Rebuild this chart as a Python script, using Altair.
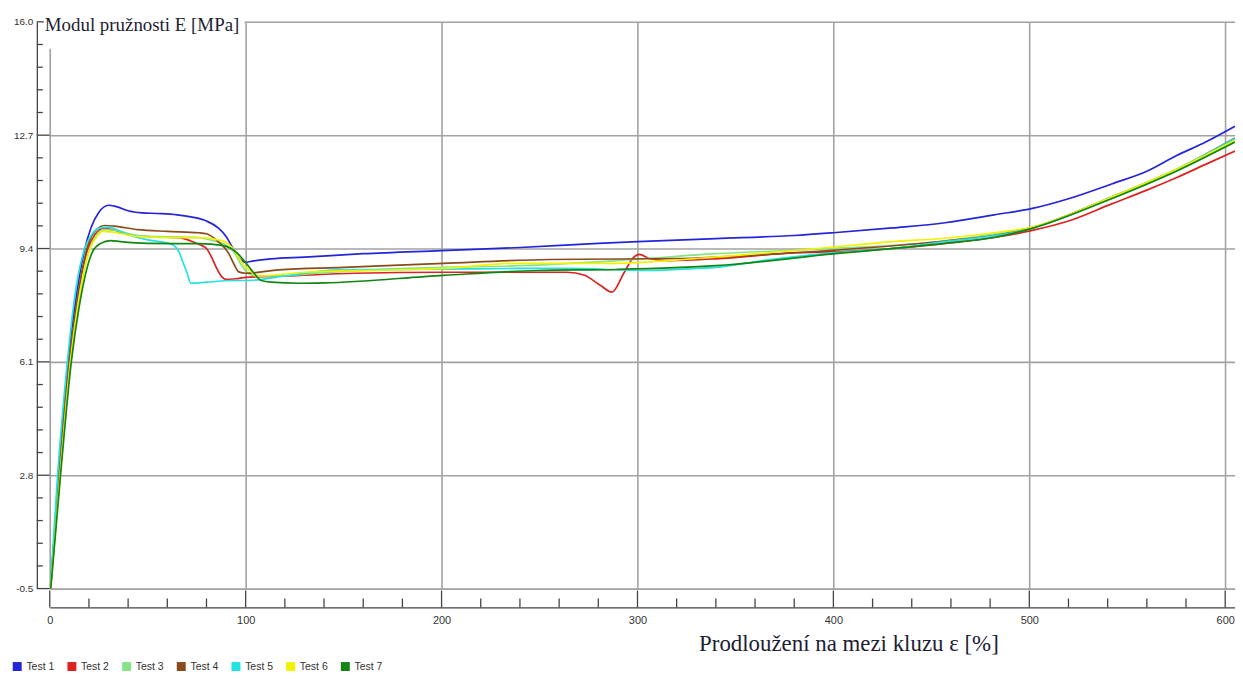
import altair as alt
import pandas as pd

# ---------------- data ----------------
series_names = ["Test 1", "Test 2", "Test 3", "Test 4", "Test 5", "Test 6", "Test 7"]
series_colors = ["#2424d8", "#dd2222", "#86e486", "#8b4a1c", "#22e2e2", "#f2f200", "#128612"]

x_test1 = [0.5, 4.5, 9.5, 13.5, 17.5, 21.0, 25, 30, 34, 40, 47, 55, 65, 72, 80, 86, 90, 94, 97, 100,
           104, 113, 130, 160, 200, 240, 280, 300, 340, 380, 400, 430, 457, 482, 501, 520, 542, 560, 575, 590, 605]
y_test1 = [-0.4, 2.8, 6.2, 8.0, 9.3, 10.0, 10.45, 10.66, 10.62, 10.5, 10.44, 10.42, 10.38, 10.32, 10.2, 10.0,
           9.75, 9.35, 9.1, 9.0, 9.04, 9.1, 9.15, 9.25, 9.34, 9.43, 9.55, 9.6, 9.69, 9.78, 9.86, 10.0, 10.15,
           10.38, 10.56, 10.85, 11.28, 11.65, 12.1, 12.5, 12.96]

x_test2 = [0.5, 4.8, 10, 14, 19, 23, 27, 32, 40, 50, 60, 66, 72, 77, 80, 83, 85, 87.5, 90, 95, 100, 120,
           156, 200, 240, 264, 273, 281, 287, 293, 298, 301, 306, 315, 340, 381, 401, 430, 457, 482, 501,
           520, 542, 560, 575, 590, 605]
y_test2 = [-0.4, 2.8, 6.1, 7.8, 9.3, 9.8, 9.98, 9.95, 9.8, 9.75, 9.73, 9.72, 9.62, 9.5, 9.4, 9.1, 8.85,
           8.6, 8.5, 8.52, 8.56, 8.6, 8.68, 8.71, 8.71, 8.71, 8.62, 8.33, 8.13, 8.68, 9.14, 9.23, 9.11, 9.05,
           9.1, 9.28, 9.31, 9.4, 9.55, 9.72, 9.92, 10.2, 10.7, 11.1, 11.46, 11.85, 12.24]

x_test3 = [0.5, 5, 10.3, 14.3, 19.8, 24, 28, 33, 45, 60, 76, 85, 90, 94, 97, 100, 104, 115, 140, 200,
           240, 290, 340, 400, 457, 482, 501, 542, 575, 605]
y_test3 = [-0.4, 2.8, 6.1, 7.8, 9.3, 9.8, 9.95, 9.93, 9.78, 9.74, 9.72, 9.6, 9.5, 9.3, 9.0, 8.75, 8.62,
           8.6, 8.7, 8.85, 8.9, 9.05, 9.25, 9.4, 9.62, 9.82, 10.0, 10.88, 11.66, 12.55]

x_test4 = [0.5, 4.8, 10, 14, 19, 23, 28, 33, 45, 60, 76, 80, 86, 91.4, 94, 96.5, 100, 117, 150, 201,
           255, 323, 340, 400, 457, 482, 501, 542, 575, 605]
y_test4 = [-0.4, 2.8, 6.1, 7.9, 9.4, 9.9, 10.07, 10.05, 9.95, 9.9, 9.86, 9.83, 9.6, 9.25, 8.95, 8.72,
           8.68, 8.78, 8.85, 8.97, 9.08, 9.11, 9.15, 9.35, 9.62, 9.78, 10.0, 10.9, 11.7, 12.62]

x_test5 = [0.5, 4, 9, 12.5, 17.8, 22, 25.5, 30, 40, 50, 59, 63, 66, 68, 70, 72, 80, 93, 101, 120, 147,
           201, 240, 264, 306, 330, 340, 364, 401, 430, 457, 482, 501, 542, 575, 605]
y_test5 = [-0.3, 2.8, 6.1, 7.9, 9.4, 9.85, 10.0, 10.02, 9.8, 9.65, 9.57, 9.5, 9.3, 9.0, 8.7, 8.39, 8.42,
           8.47, 8.47, 8.6, 8.78, 8.8, 8.82, 8.82, 8.76, 8.82, 8.85, 9.05, 9.28, 9.4, 9.6, 9.77, 9.98, 10.9,
           11.7, 12.6]

x_test6 = [0.5, 5.2, 10.5, 14.5, 20.3, 24, 27, 32, 45, 60, 76, 88, 93, 96.4, 100, 103, 105, 130, 201,
           239, 289, 330, 397, 430, 457, 482, 501, 542, 575, 605]
y_test6 = [-0.5, 2.8, 6.1, 7.8, 9.35, 9.75, 9.9, 9.88, 9.75, 9.72, 9.72, 9.63, 9.43, 9.14, 8.85, 8.72,
           8.6, 8.71, 8.82, 8.97, 8.97, 9.11, 9.43, 9.6, 9.7, 9.86, 10.02, 10.9, 11.7, 12.55]

x_test7 = [0.5, 5.5, 11, 15, 21.8, 26, 31, 36, 50, 76, 88, 96, 100, 104, 108, 113, 127, 140, 201, 249,
           289, 340, 401, 457, 482, 501, 542, 575, 605]
y_test7 = [-0.5, 2.8, 6.1, 7.7, 9.3, 9.55, 9.63, 9.6, 9.55, 9.54, 9.49, 9.25, 8.99, 8.7, 8.47, 8.42,
           8.39, 8.4, 8.62, 8.76, 8.79, 8.9, 9.25, 9.55, 9.72, 9.98, 10.85, 11.65, 12.5]

x_major_ticks = [0, 100, 200, 300, 400, 500, 600]
x_minor_ticks = [20, 40, 60, 80, 120, 140, 160, 180, 220, 240, 260, 280, 320, 340, 360, 380,
                 420, 440, 460, 480, 520, 540, 560, 580]
y_major_ticks = [-0.5, 2.8, 6.1, 9.4, 12.7, 16.0]
y_minor_ticks = [0.16, 0.82, 1.48, 2.14, 3.46, 4.12, 4.78, 5.44, 6.76, 7.42, 8.08, 8.74,
                 10.06, 10.72, 11.38, 12.04, 13.36, 14.02, 14.68, 15.34]

y_title = "Modul pružnosti E [MPa]"
x_title = "Prodloužení na mezi kluzu ε [%]"

# ---------------- table ----------------
rows = []
all_x = [x_test1, x_test2, x_test3, x_test4, x_test5, x_test6, x_test7]
all_y = [y_test1, y_test2, y_test3, y_test4, y_test5, y_test6, y_test7]
for name, xs, ys in zip(series_names, all_x, all_y):
    for i, (xv, yv) in enumerate(zip(xs, ys)):
        rows.append({"test": name, "x": xv, "y": yv, "i": i})
df = pd.DataFrame(rows)

xscale = alt.Scale(domain=[0, 605], nice=False, zero=False)
yscale = alt.Scale(domain=[-0.5, 16.0], nice=False, zero=False)

LABEL_FONT = "Liberation Sans"
TITLE_FONT = "Liberation Serif"
GRID = "#a2a2a2"
AXC = "#444444"

x_axis = alt.Axis(
    values=x_major_ticks, format="d", grid=True, gridColor=GRID, gridWidth=1.6,
    ticks=False, domain=True, domainColor=AXC, domainWidth=1.3, offset=19,
    labelPadding=7, labelFont=LABEL_FONT, labelFontSize=11, labelColor="#333333",
    labelFlush=False, labelOverlap=False, title=None)
y_axis = alt.Axis(
    values=y_major_ticks, grid=True, gridColor=GRID, gridWidth=1.6,
    ticks=False, domain=True, domainColor=AXC, domainWidth=1.3, offset=13,
    labelPadding=4, labelFont=LABEL_FONT, labelFontSize=10, labelColor="#333333",
    labelFlush=False, labelOverlap=False, title=None,
    labelExpr="datum.value < 0 ? '-' + format(abs(datum.value), '.1f') : format(datum.value, '.1f')")

lines = alt.Chart(df).mark_line(strokeWidth=1.7, interpolate="monotone").encode(
    x=alt.X("x:Q", scale=xscale, axis=x_axis),
    y=alt.Y("y:Q", scale=yscale, axis=y_axis),
    color=alt.Color("test:N", scale=alt.Scale(domain=series_names, range=series_colors),
                    legend=alt.Legend(orient="none", legendX=-38, legendY=643, direction="horizontal",
                                      title=None, symbolType="square", symbolSize=9,
                                      symbolStrokeWidth=6, labelFont=LABEL_FONT, labelFontSize=10.5,
                                      labelColor="#333333", labelOffset=4, columnPadding=3,
                                      padding=0)),
    order=alt.Order("i:Q"),
)

xmaj = alt.Chart(pd.DataFrame({"x": x_major_ticks})).mark_rule(color=AXC, strokeWidth=1.3).encode(
    x=alt.X("x:Q", scale=xscale, axis=x_axis), y=alt.value(572), y2=alt.value(589))
xmin = alt.Chart(pd.DataFrame({"x": x_minor_ticks})).mark_rule(color=AXC, strokeWidth=1.3).encode(
    x=alt.X("x:Q", scale=xscale, axis=x_axis), y=alt.value(580), y2=alt.value(589))
ymaj = alt.Chart(pd.DataFrame({"y": y_major_ticks})).mark_rule(color=AXC, strokeWidth=1.3).encode(
    y=alt.Y("y:Q", scale=yscale, axis=y_axis), x=alt.value(-13), x2=alt.value(0))
ymin = alt.Chart(pd.DataFrame({"y": y_minor_ticks})).mark_rule(color=AXC, strokeWidth=1.3).encode(
    y=alt.Y("y:Q", scale=yscale, axis=y_axis), x=alt.value(-13), x2=alt.value(-7))

title_bg = alt.Chart(pd.DataFrame({"t": [0]})).mark_rect(color="white").encode(
    x=alt.value(-6), x2=alt.value(196), y=alt.value(-18), y2=alt.value(27))
ytitle = alt.Chart(pd.DataFrame({"t": [y_title]})).mark_text(
    font=TITLE_FONT, fontSize=19, align="left", baseline="middle", color="#1d1d33").encode(
    text="t:N", x=alt.value(-5), y=alt.value(3))
xtitle = alt.Chart(pd.DataFrame({"t": [x_title]})).mark_text(
    font=TITLE_FONT, fontSize=23, align="left", baseline="middle", color="#1d1d33").encode(
    text="t:N", x=alt.value(653), y=alt.value(626))

chart = alt.layer(lines, xmaj, xmin, ymaj, ymin, title_bg, ytitle, xtitle).properties(
    width=1192, height=570,
    padding={"left": 42, "top": 12, "right": 0, "bottom": 84},
    autosize=alt.AutoSizeParams(type="none"),
).configure_view(stroke=None).configure(background="white")

chart.save("out.html", embed_options={"renderer": "svg", "actions": False})
